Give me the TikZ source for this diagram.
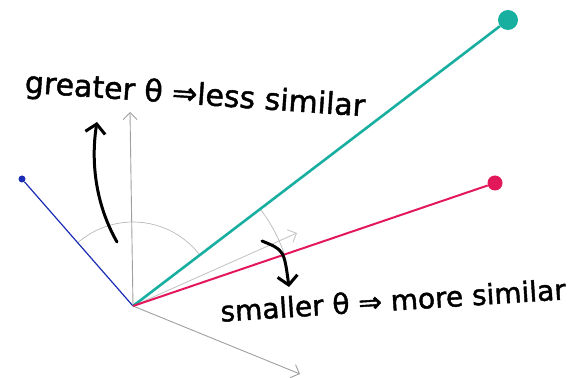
\documentclass[tikz,border=0pt]{standalone}
\usepackage{fontspec}
\setmainfont{DejaVu Sans}
\newfontfamily\handfont{DejaVu Sans}[FakeBold=1.5]
\usepackage{xcolor}
\usepackage{tikz}
\usetikzlibrary{arrows.meta}
\definecolor{tealvec}{HTML}{19AFA0}
\definecolor{redvec}{HTML}{E2185A}
\definecolor{bluevec}{HTML}{1A2DB4}

\begin{document}
\begin{tikzpicture}[x=1pt, y=1pt,
    every node/.style={font=\handfont\fontsize{28}{30}\selectfont},
    axis/.style={gray!75, line width=0.9pt, -{Straight Barb[length=7pt,width=14pt]}},
    hint/.style={black, line width=3pt, line cap=round, -{Straight Barb[length=9pt,width=20pt]}},
    dot/.style={circle, inner sep=0pt, minimum size=#1}]
    \useasboundingbox (0,0) rectangle (574,378);

    % Origin and axes
    \coordinate (O) at (133,72);
    \coordinate (yax) at (130,266);
    \coordinate (xax) at (300,4);
    \coordinate (mid) at (297,145);
    \draw[axis] (O) -- (yax);
    \draw[axis] (O) -- (xax);
    \draw[axis, gray!45] (O) -- (mid);

    % Angle arcs
    \draw[gray!55, line width=0.7pt] (O) ++(131:84) arc[start angle=131, end angle=37.6, radius=84];
    \draw[gray!55, line width=0.7pt] (O) ++(37.6:160) arc[start angle=37.6, end angle=18.8, radius=160];

    % Vectors
    \node[dot=7pt, fill=bluevec] (b) at (22,199) {};
    \node[dot=20pt, fill=tealvec] (t) at (508,358) {};
    \node[dot=15pt, fill=redvec] (r) at (495,195) {};
    \draw[bluevec, line width=1.2pt] (O) -- (b);
    \draw[tealvec, line width=2.6pt] (O) -- (t);
    \draw[redvec, line width=2pt] (O) -- (r);

    % Labels
    \node[rotate=-4, font=\handfont\fontsize{30}{32}\selectfont] (gt) at (195,282) {greater θ ⇒less similar};
    \node[rotate=3.7] (sm) at (393,78) {smaller θ ⇒ more similar};

    % Hint arrows
    \coordinate (up0) at (117,136);
    \coordinate (up1) at (97,256);
    \coordinate (dn0) at (262,137);
    \coordinate (dn1) at (289,91);
    \draw[hint] (up0) .. controls (92,180) and (92,225) .. (up1);
    \draw[hint] (dn0) .. controls (284,128) .. (dn1);
\end{tikzpicture}
\end{document}
